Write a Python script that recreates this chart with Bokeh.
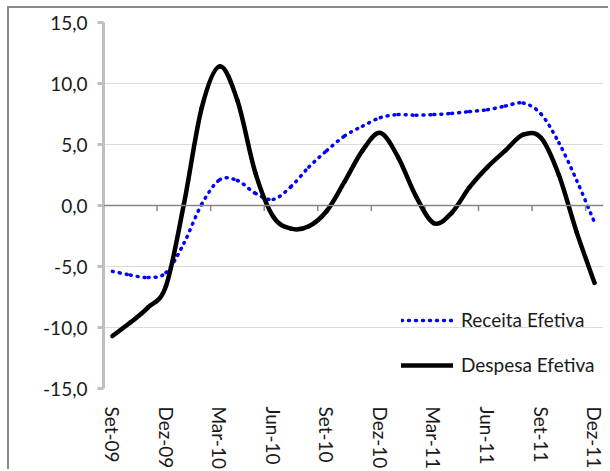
import numpy as np
from bokeh.plotting import figure
from bokeh.models import (Range1d, FixedTicker, CustomJSTickFormatter, Span,
                          Legend, LegendItem, ColumnDataSource)
from bokeh.embed import file_html
from bokeh.resources import INLINE

months = ["Set-09", "Out-09", "Nov-09", "Dez-09", "Jan-10", "Fev-10", "Mar-10",
          "Abr-10", "Mai-10", "Jun-10", "Jul-10", "Ago-10", "Set-10", "Out-10",
          "Nov-10", "Dez-10", "Jan-11", "Fev-11", "Mar-11", "Abr-11", "Mai-11",
          "Jun-11", "Jul-11", "Ago-11", "Set-11", "Out-11", "Nov-11", "Dez-11"]

receita = [-5.4, -5.7, -5.9, -5.5, -3.1, 0.1, 2.1, 2.05, 1.0, 0.5, 1.55, 3.15,
           4.5, 5.7, 6.5, 7.2, 7.45, 7.4, 7.45, 7.55, 7.7, 7.85, 8.15, 8.4,
           7.5, 5.15, 2.05, -1.4]

despesa = [-10.7, -9.6, -8.35, -6.6, 0.1, 8.0, 11.4, 8.6, 2.7, -0.9, -1.9, -1.7,
           -0.45, 1.95, 4.5, 5.95, 3.95, 0.75, -1.45, -0.6, 1.5, 3.15, 4.5, 5.8,
           5.55, 2.5, -2.2, -6.35]

y_ticks = [-15, -10, -5, 0, 5, 10, 15]
label_step = 3


def bezier_source(vals):
    """Excel-like smoothed line: cubic Bezier segments through the data points."""
    x = np.arange(len(vals), dtype=float)
    y = np.asarray(vals, dtype=float)
    xp = np.concatenate([[x[0]], x, [x[-1]]])
    yp = np.concatenate([[y[0]], y, [y[-1]]])
    n = len(vals) - 1
    x0, y0 = x[:-1], y[:-1]
    x1, y1 = x[1:], y[1:]
    cx0 = x0 + (xp[2:n + 2] - xp[0:n]) / 6.0
    cy0 = y0 + (yp[2:n + 2] - yp[0:n]) / 6.0
    cx1 = x1 - (xp[3:n + 3] - xp[1:n + 1]) / 6.0
    cy1 = y1 - (yp[3:n + 3] - yp[1:n + 1]) / 6.0
    return ColumnDataSource(dict(x0=x0, y0=y0, x1=x1, y1=y1,
                                 cx0=cx0, cy0=cy0, cx1=cx1, cy1=cy1))


FONT = "Lato"
FSIZE = "19px"
n = len(months)

p = figure(width=601, height=463, output_backend="svg", toolbar_location=None,
           x_range=Range1d(-0.5, n - 0.5), y_range=Range1d(-15, 15),
           min_border_left=94, min_border_right=7, min_border_top=14,
           min_border_bottom=76)
p.styles = {"margin-left": "7px", "margin-top": "6px",
            "border-left": "2px solid #8a8a8a", "border-top": "2px solid #8a8a8a"}
p.outline_line_color = None
p.background_fill_color = "white"
p.border_fill_color = "white"

# grid
p.xgrid.grid_line_color = None
p.ygrid.ticker = FixedTicker(ticks=[t for t in y_ticks if t != 0])
p.ygrid.grid_line_color = "#dcdcdc"
p.ygrid.grid_line_width = 1

# y axis
p.yaxis.ticker = FixedTicker(ticks=y_ticks)
p.yaxis.formatter = CustomJSTickFormatter(code="return tick.toFixed(1).replace('.', ',');")
p.yaxis.axis_line_color = "#bfbfbf"
p.yaxis.axis_line_width = 3
p.yaxis.major_tick_line_color = "#bfbfbf"
p.yaxis.major_tick_line_width = 3
p.yaxis.major_tick_out = 6
p.yaxis.major_tick_in = 0
p.yaxis.minor_tick_line_color = None
p.yaxis.major_label_standoff = 10
p.yaxis.major_label_text_font = FONT
p.yaxis.major_label_text_font_size = FSIZE
p.yaxis.major_label_text_color = "#1a1a1a"

# x axis (labels only, at the bottom)
label_idx = list(range(0, n, label_step))
p.xaxis.ticker = FixedTicker(ticks=label_idx)
p.xaxis.major_label_overrides = {i: months[i] for i in label_idx}
p.xaxis.axis_line_color = None
p.xaxis.major_tick_line_color = None
p.xaxis.minor_tick_line_color = None
p.xaxis.major_tick_out = 0
p.xaxis.major_label_standoff = 18
p.xaxis.major_label_orientation = -np.pi / 2
p.xaxis.major_label_text_font = FONT
p.xaxis.major_label_text_font_size = FSIZE
p.xaxis.major_label_text_color = "#1a1a1a"

# horizontal axis line crossing at zero with tick marks between categories
p.add_layout(Span(location=0, dimension="width", line_color="#868686", line_width=1.5))
tick_pos = [i - 0.5 for i in label_idx]
p.segment(x0=tick_pos, y0=[0] * len(tick_pos), x1=tick_pos, y1=[-0.45] * len(tick_pos),
          line_color="#868686", line_width=1.5)

r1 = p.bezier(x0="x0", y0="y0", x1="x1", y1="y1", cx0="cx0", cy0="cy0",
              cx1="cx1", cy1="cy1", source=bezier_source(receita),
              line_color="#0000ff", line_width=3.5, line_dash="1 6", line_cap="round")
r2 = p.bezier(x0="x0", y0="y0", x1="x1", y1="y1", cx0="cx0", cy0="cy0",
              cx1="cx1", cy1="cy1", source=bezier_source(despesa),
              line_color="#000000", line_width=4.5, line_cap="round", line_join="round")

legend = Legend(items=[LegendItem(label="Receita Efetiva", renderers=[r1]),
                       LegendItem(label="Despesa Efetiva", renderers=[r2])],
                location=(298, 12), padding=0, margin=0, spacing=22,
                glyph_width=52, glyph_height=20, label_height=20, label_standoff=8,
                label_text_font=FONT, label_text_font_size=FSIZE,
                label_text_color="#1a1a1a",
                background_fill_alpha=0, border_line_color=None)
p.add_layout(legend)

open("out.html", "w").write(file_html(p, INLINE))
